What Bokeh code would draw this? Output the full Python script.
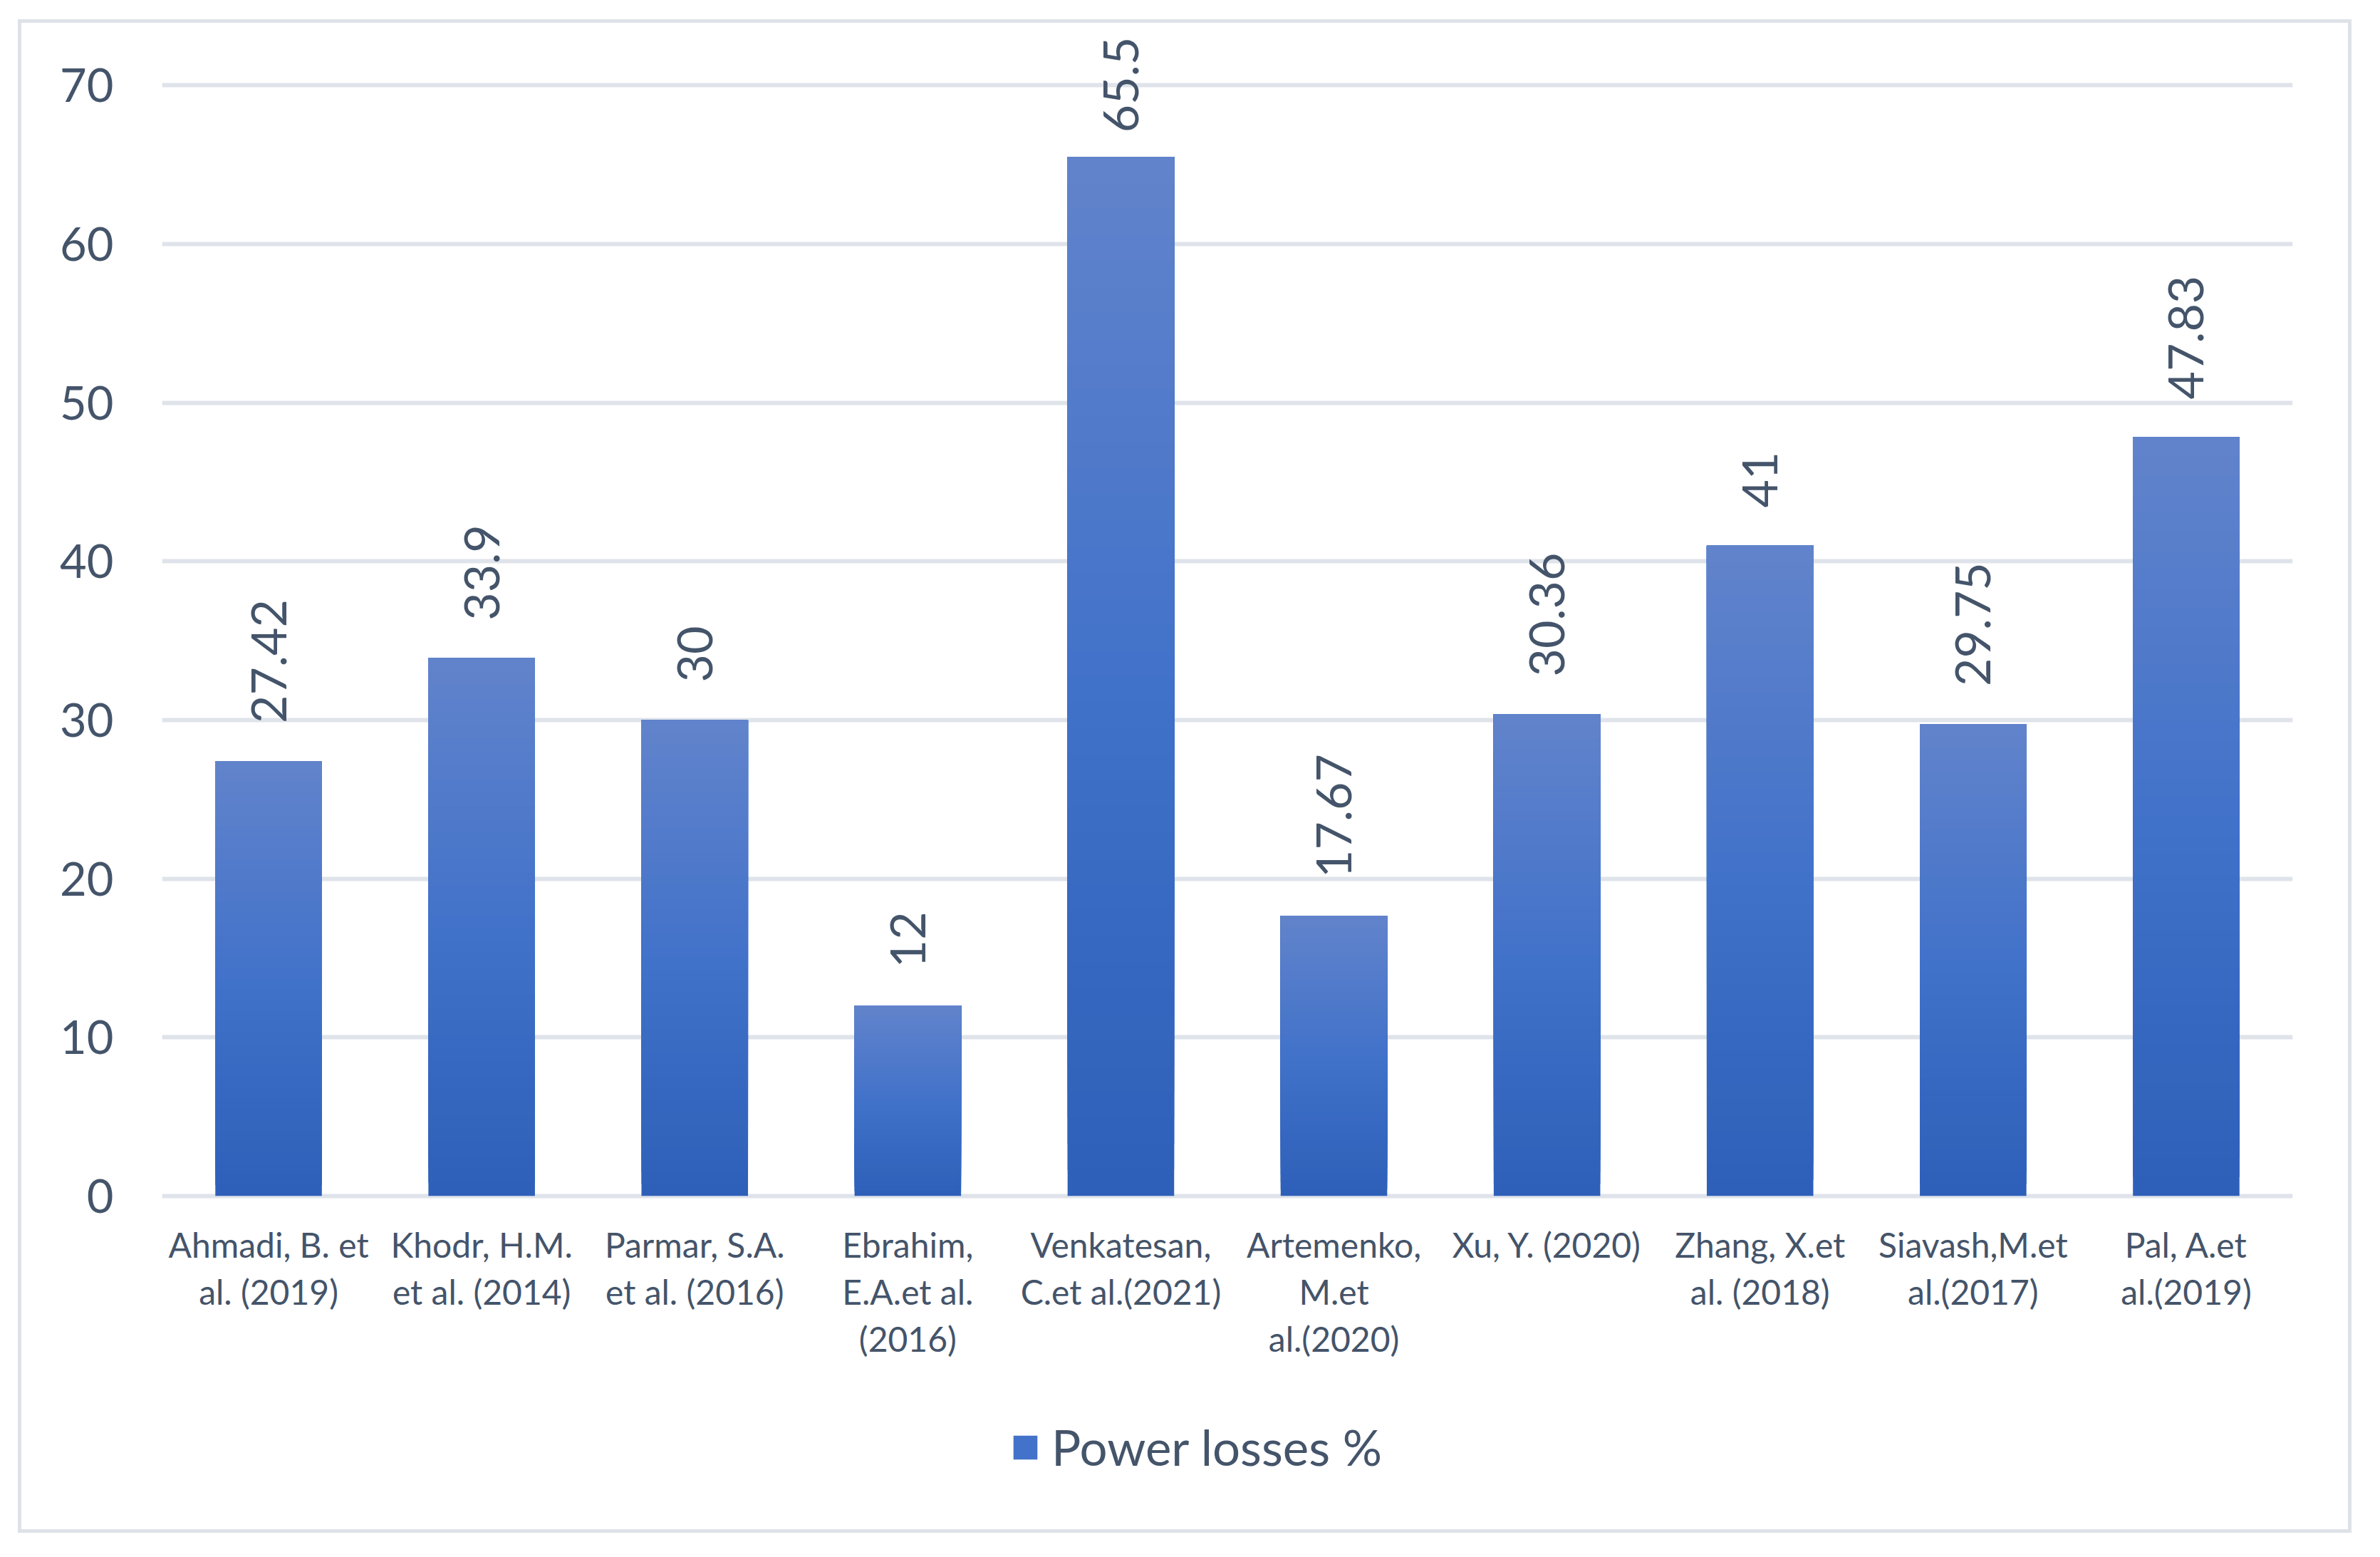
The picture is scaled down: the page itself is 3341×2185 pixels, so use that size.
import math
from bokeh.plotting import figure
from bokeh.models import (ColumnDataSource, FactorRange, Range1d, FixedTicker,
                          Legend, LegendItem)
from bokeh.core.properties import value
from bokeh.embed import file_html
from bokeh.resources import INLINE

# ---------------- data ----------------
categories = [
    "Ahmadi, B. et al. (2019)",
    "Khodr, H.M. et al. (2014)",
    "Parmar, S.A. et al. (2016)",
    "Ebrahim, E.A.et al. (2016)",
    "Venkatesan, C.et al.(2021)",
    "Artemenko, M.et al.(2020)",
    "Xu, Y. (2020)",
    "Zhang, X.et al. (2018)",
    "Siavash,M.et al.(2017)",
    "Pal, A.et al.(2019)",
]
tick_labels = [
    "Ahmadi, B. et\nal. (2019)",
    "Khodr, H.M.\net al. (2014)",
    "Parmar, S.A.\net al. (2016)",
    "Ebrahim,\nE.A.et al.\n(2016)",
    "Venkatesan,\nC.et al.(2021)",
    "Artemenko,\nM.et\nal.(2020)",
    "Xu, Y. (2020)",
    "Zhang, X.et\nal. (2018)",
    "Siavash,M.et\nal.(2017)",
    "Pal, A.et\nal.(2019)",
]
power_losses = [27.42, 33.9, 30, 12, 65.5, 17.67, 30.36, 41, 29.75, 47.83]
value_labels = ["27.42", "33.9", "30", "12", "65.5", "17.67", "30.36", "41", "29.75", "47.83"]
y_ticks = [0, 10, 20, 30, 40, 50, 60, 70]
series_name = "Power losses %"

# ---------------- style ----------------
FONT = "Lato"
TEXT = "#44546A"
GRID = "#DFE3EA"
# gap (px) between bar top and its label; the tallest label is pulled down
# to stay inside the chart area, as in the original
label_gap = [-53, -53, -53, -53, -34, -53, -53, -53, -53, -53]

def grad(t):
    stops = [(0.0, (46, 96, 185)), (0.5, (66, 114, 202)), (1.0, (97, 131, 203))]
    for (t0, c0), (t1, c1) in zip(stops[:-1], stops[1:]):
        if t <= t1:
            f = (t - t0) / (t1 - t0)
            c = [round(a + (b - a) * f) for a, b in zip(c0, c1)]
            return "#%02x%02x%02x" % tuple(c)
    return "#%02x%02x%02x" % stops[-1][1]

p = figure(
    x_range=FactorRange(factors=categories, range_padding=0),
    y_range=Range1d(-21.48, 73.93),
    width=3266, height=2114,
    x_axis_location=None,
    output_backend="svg", toolbar_location=None,
    min_border_left=197, min_border_right=88,
    min_border_top=0, min_border_bottom=0,
)
p.styles = {"border": "5px solid #DEE2E8", "margin-left": "25px",
            "margin-top": "27px", "box-sizing": "content-box"}
p.outline_line_color = None
p.background_fill_color = "white"
p.border_fill_color = "white"

# grid
p.xgrid.grid_line_color = None
p.ygrid.ticker = FixedTicker(ticks=y_ticks)
p.ygrid.grid_line_color = GRID
p.ygrid.grid_line_width = 6

# y axis
p.yaxis.ticker = FixedTicker(ticks=y_ticks)
p.yaxis.axis_line_color = None
p.yaxis.major_tick_line_color = None
p.yaxis.minor_tick_line_color = None
p.yaxis.major_tick_out = 0
p.yaxis.major_label_standoff = 68
p.yaxis.major_label_text_font = FONT
p.yaxis.major_label_text_font_size = "65px"
p.yaxis.major_label_text_color = TEXT

# bars with a vertical gradient (stacked layers, each bar relative to its own value)
N = 40
legend_renderer = None
for k in range(N):
    src = ColumnDataSource(dict(
        x=categories,
        top=power_losses,
        bottom=[v * k / N for v in power_losses],
    ))
    r = p.vbar(x="x", top="top", bottom="bottom", width=0.5, source=src,
               fill_color=grad(k / (N - 1)), line_color=None)
    if k == N // 2:
        legend_renderer = r

# value labels
lab_src = ColumnDataSource(dict(x=categories, y=power_losses, text=value_labels,
                                off=label_gap))
p.text(x="x", y="y", text="text", source=lab_src, angle=math.pi / 2,
       text_align="left", text_baseline="middle", y_offset="off",
       text_font=value(FONT), text_font_size=value("68px"), text_color=TEXT)

# category labels (wrapped, one text per line, centred under each bar)
cx, cy, ct, coff = [], [], [], []
for cat, lab in zip(categories, tick_labels):
    for j, line in enumerate(lab.split("\n")):
        cx.append(cat)
        cy.append(0)
        ct.append(line)
        coff.append(68 + 66 * j)
cat_src = ColumnDataSource(dict(x=cx, y=cy, text=ct, yoff=coff))
p.text(x="x", y="y", text="text", y_offset="yoff", source=cat_src,
       text_align="center", text_baseline="alphabetic",
       text_font=value(FONT), text_font_size=value("48px"), text_color=TEXT)

legend = Legend(
    items=[LegendItem(label=series_name, renderers=[legend_renderer])],
    location=(1191, 84), orientation="horizontal",
    glyph_width=42, glyph_height=42, label_standoff=16, label_height=42,
    label_text_font=FONT, label_text_font_size="69px", label_text_color=TEXT,
    border_line_color=None, background_fill_alpha=0,
    margin=0, padding=0,
)
p.add_layout(legend)

open("out.html", "w").write(file_html(p, INLINE))
